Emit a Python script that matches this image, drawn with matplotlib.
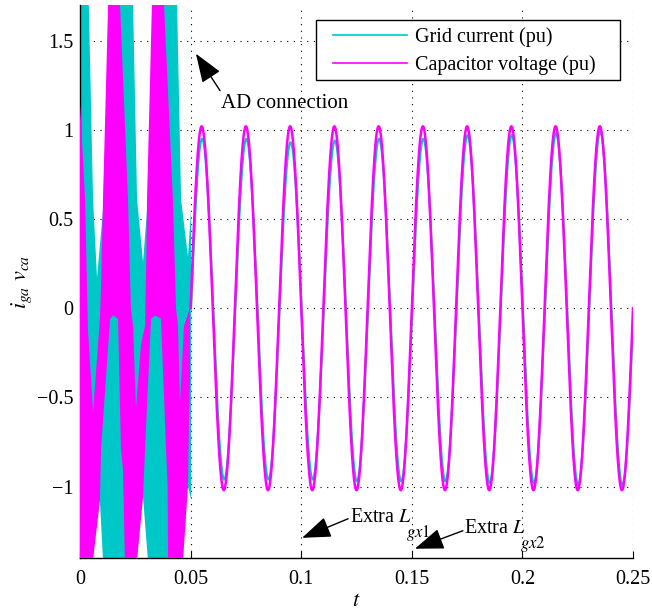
#!/usr/bin/env python3
"""
Grid current and capacitor voltage around the active-damping connection.

The first 50 ms are an unstable, switching-rich transient drawn as solid
envelope bands; afterwards both quantities settle to a 50 Hz waveform.
"""

import numpy as np
import matplotlib
matplotlib.use("Agg")
import matplotlib.pyplot as plt
from matplotlib.lines import Line2D
from matplotlib.patches import Rectangle

plt.rcParams["font.family"] = "Liberation Serif"
plt.rcParams["mathtext.fontset"] = "stix"

CYAN = "#00C8C8"
MAGENTA = "#FF00FF"
FS = 14.5

# ---------------------------------------------------------------------------
# Data (t in seconds, values in pu)
# ---------------------------------------------------------------------------

# transient envelope of the capacitor voltage, upper and lower edges
vc_up_t = [0.0, 0.0023, 0.0036, 0.0059, 0.0090, 0.0097, 0.0104, 0.0127, 0.0155,
           0.0181, 0.0217, 0.0230, 0.0240, 0.0253, 0.0276, 0.0294, 0.0300,
           0.0303, 0.0325, 0.0353, 0.0380, 0.0420, 0.0434, 0.0443, 0.0452,
           0.0470, 0.0497]
vc_up = [1.15, 0.61, -0.12, -0.58, -0.06, 0.20, 0.61, 1.70, 2.40,
         1.70, 0.61, 0.00, -0.10, -0.56, -0.20, -0.10, 0.30,
         0.61, 1.70, 2.40, 1.70, 0.61, 0.00, -0.10, -0.53,
         -0.10, 0.00]
vc_lo_t = [0.0, 0.0050, 0.0059, 0.0090, 0.0095, 0.0136, 0.0150, 0.0172, 0.0185,
           0.0194, 0.0203, 0.0210, 0.0250, 0.0258, 0.0285, 0.0294, 0.0321,
           0.0340, 0.0366, 0.0389, 0.0396, 0.0398, 0.0405, 0.0460, 0.0466,
           0.0488, 0.0493, 0.0497]
vc_lo = [-1.8, -1.8, -1.41, -1.08, -0.79, -0.06, -0.04, -0.06, -0.79,
         -0.90, -1.41, -1.8, -1.8, -1.41, -1.06, -0.79, -0.06,
         -0.04, -0.06, -0.79, -1.00, -1.41, -1.8, -1.8, -1.41,
         -1.00, -0.60, -0.40]

# transient envelope of the grid current
ig_up_t = [0.0, 0.0040, 0.0059, 0.0077, 0.0104, 0.0135, 0.0200, 0.0240, 0.0258,
           0.0285, 0.0303, 0.0345, 0.0400, 0.0439, 0.0457, 0.0488, 0.0502]
ig_up = [2.3, 1.70, 0.61, 0.17, 0.55, 1.70, 2.40, 1.70, 0.61,
         0.26, 0.55, 1.70, 2.40, 1.70, 0.61, 0.29, 0.55]
ig_lo_t = [0.0, 0.0090, 0.0104, 0.0110, 0.0200, 0.0240, 0.0285, 0.0307, 0.0315,
           0.0400, 0.0440, 0.0488, 0.0502]
ig_lo = [-0.90, -1.08, -1.41, -1.8, -1.8, -0.90, -1.06, -1.41, -1.8,
         -1.8, -0.90, -1.00, -1.07]

# steady state after the connection: 50 Hz, one peak value per half cycle
F_GRID = 50.0
T_SS = 0.05
T_END = 0.25
vc_peaks = [1.02, -1.02, 1.02, -1.02, 1.02, -1.02, 1.02, -1.02, 1.02, -1.02,
            1.02, -1.02, 1.02, -1.02, 1.02, -1.02, 1.02, -1.02, 1.02, -1.02]
ig_peaks = [0.95, -0.96, 0.95, -0.96, 0.93, -0.96, 0.94, -0.97, 0.95, -0.97,
            0.95, -0.97, 0.97, -0.98, 0.97, -0.98, 0.98, -0.99, 0.99, -0.99]
IG_LAG = 0.0002

x_ticks = [0, 0.05, 0.1, 0.15, 0.2, 0.25]
x_labels = ["0", "0.05", "0.1", "0.15", "0.2", "0.25"]
y_ticks = [-1, -0.5, 0, 0.5, 1, 1.5]
y_labels = ["\u22121", "\u22120.5", "0", "0.5", "1", "1.5"]


def band(up_t, up, lo_t, lo):
    """Closed polygon: along the upper edge, back along the lower edge."""
    xs = list(up_t) + list(lo_t)[::-1]
    ys = list(up) + list(lo)[::-1]
    return xs, ys


def steady_wave(peaks, t0, n=60):
    """Half-sine lobes between zero crossings, scaled by each peak value."""
    half = 0.5 / F_GRID
    ts, vs = [], []
    for k, pk in enumerate(peaks):
        tk = t0 + k * half
        t = np.linspace(tk, tk + half, n)
        ts.append(t)
        vs.append(pk * np.sin(np.pi * (t - tk) / half))
    return np.concatenate(ts), np.concatenate(vs)


def arrow(ax, tip, tail):
    ax.annotate("", xy=tip, xytext=tail,
                arrowprops=dict(arrowstyle="-|>,head_length=0.9,head_width=0.33",
                                mutation_scale=20, color="k", lw=1.0,
                                shrinkA=0, shrinkB=0),
                zorder=6)


def label_with_sub(ax, x, y, main, sub):
    """Main text plus a low-set subscript hung off its lower right corner."""
    t = ax.text(x, y, main, fontsize=FS, va="baseline", ha="left", zorder=6)
    ax.annotate(sub, xy=(1.0, 0.0), xycoords=t, xytext=(-4, 3),
                textcoords="offset points", fontsize=12, va="top", ha="left",
                zorder=6)


# ---------------------------------------------------------------------------
# Plot
# ---------------------------------------------------------------------------

fig = plt.figure(figsize=(6.52, 6.15), dpi=100)
ax = fig.add_axes([80 / 652, 1 - 558 / 615, 553 / 652, 553 / 615])

# transient bands (current underneath, voltage on top)
xs, ys = band(ig_up_t, ig_up, ig_lo_t, ig_lo)
ax.fill(xs, ys, color=CYAN, lw=0, zorder=2)
xs, ys = band(vc_up_t, vc_up, vc_lo_t, vc_lo)
ax.fill(xs, ys, color=MAGENTA, lw=0, zorder=3)

# steady state
t_ig, v_ig = steady_wave(ig_peaks, T_SS + IG_LAG)
t_vc, v_vc = steady_wave(vc_peaks, T_SS)
ax.plot(t_ig, v_ig, color=CYAN, lw=1.6, zorder=3.5)
ax.plot(t_vc, v_vc, color=MAGENTA, lw=1.8, zorder=4)

ax.set_xlim(0, T_END)
ax.set_ylim(-1.4, 1.7)
ax.set_xticks(x_ticks)
ax.set_xticklabels(x_labels)
ax.set_yticks(y_ticks)
ax.set_yticklabels(y_labels)
ax.tick_params(direction="in", length=5, width=0.8, labelsize=FS)
ax.tick_params(axis="x", pad=9)
ax.tick_params(axis="y", pad=5)
for side in ("top", "right"):
    ax.spines[side].set_visible(False)
for side in ("left", "bottom"):
    ax.spines[side].set_linewidth(1.0)

ax.set_axisbelow(True)
ax.grid(True, color="k", lw=0.8, ls=(0, (1, 5)))

ax.set_xlabel(r"$t$", fontsize=16, labelpad=2)
ax.set_ylabel(r"$i_{ga}\ v_{ca}$", fontsize=16, labelpad=2)

# events
arrow(ax, (0.0524, 1.427), (0.0633, 1.22))
ax.text(0.0637, 1.146, "AD connection", fontsize=15, va="center", ha="left")
arrow(ax, (0.1004, -1.287), (0.1212, -1.18))
label_with_sub(ax, 0.1220, -1.197, r"Extra $L$", r"$gx1$")
arrow(ax, (0.1514, -1.348), (0.1731, -1.247))
label_with_sub(ax, 0.1735, -1.258, r"Extra $L$", r"$gx2$")

# legend with a hand-drawn frame
x0, x1 = 0.4268, 0.9765
y0, y1 = 0.8644, 0.9729
ax.add_patch(Rectangle((x0, y0), x1 - x0, y1 - y0, transform=ax.transAxes,
                       facecolor="white", edgecolor="k", lw=1.0, zorder=7))
handles = [Line2D([], [], color=CYAN, lw=1.2),
           Line2D([], [], color=MAGENTA, lw=1.2)]
leg = ax.legend(handles, ["Grid current (pu)", "Capacitor voltage (pu)"],
                loc="center",
                bbox_to_anchor=((x0 + x1) / 2 - 0.007, (y0 + y1) / 2 - 0.002),
                frameon=False, fontsize=FS, handlelength=3.7,
                handletextpad=0.4, labelspacing=0.42, borderpad=0.0)
leg.set_zorder(8)

fig.savefig("out.png", dpi=100)
